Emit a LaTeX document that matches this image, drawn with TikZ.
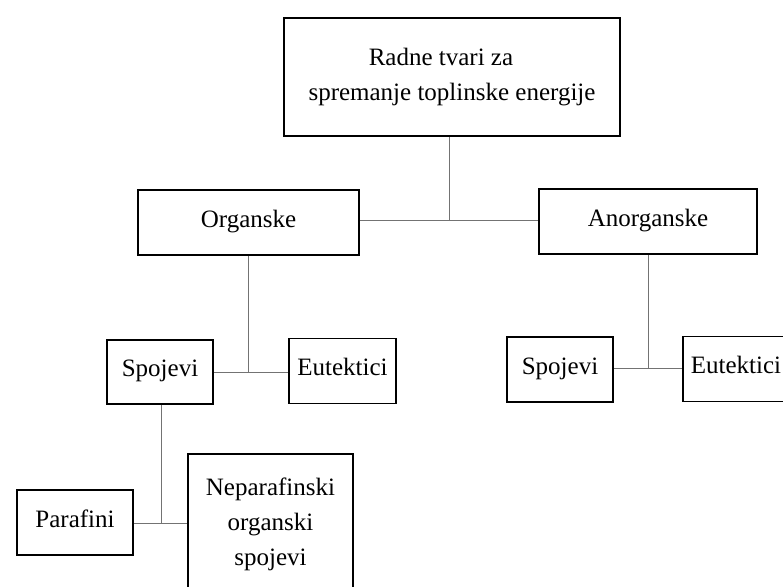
\documentclass[tikz,border=0pt]{standalone}
\usepackage{fontspec}
\setmainfont{Liberation Serif}
\begin{document}
\begin{tikzpicture}[x=1pt,y=-1pt,
  frame/.style={draw=black,line width=1.8pt,inner sep=0pt,
    font=\fontsize{25}{35}\selectfont},
  box/.style={frame,align=center},
  onebox/.style={frame,text height=17pt,text depth=8pt},
  link/.style={draw=black!55,line width=0.9pt}]
\useasboundingbox (0,0) rectangle (783,586);
\node[box,minimum width=336pt,minimum height=118pt] (top) at (452,77)
  {Radne tvari za\hspace*{22pt}\\spremanje toplinske energije};
\node[onebox,minimum width=221pt,minimum height=65pt] (org) at (248.5,222.5) {Organske};
\node[onebox,minimum width=218pt,minimum height=65pt] (anorg) at (648,221.5) {Anorganske};
\node[onebox,minimum width=106pt,minimum height=64pt] (spL) at (160,372) {Spojevi};
\node[onebox,minimum width=107pt,minimum height=65pt] (euL) at (342.5,371) {Eutektici};
\node[onebox,minimum width=106pt,minimum height=65pt] (spR) at (560,369.5) {Spojevi};
\node[onebox,minimum width=106pt,minimum height=65pt] (euR) at (736,369) {Eutektici};
\node[onebox,minimum width=116pt,minimum height=65pt] (par) at (75,522.5) {Parafini};
\node[box,minimum width=165pt,minimum height=140pt] (nep) at (270.5,524)
  {Neparafinski\\organski\\spojevi};
\coordinate (j1) at (449,220);
\coordinate (j2) at (248,372);
\coordinate (j3) at (648,368);
\coordinate (j4) at (161,523);
\draw[link] (top.south -| j1) -- (j1);
\draw[link] (org.east |- j1) -- (anorg.west |- j1);
\draw[link] (org.south -| j2) -- (j2);
\draw[link] (spL.east |- j2) -- (euL.west |- j2);
\draw[link] (anorg.south -| j3) -- (j3);
\draw[link] (spR.east |- j3) -- (euR.west |- j3);
\draw[link] (spL.south -| j4) -- (j4);
\draw[link] (par.east |- j4) -- (nep.west |- j4);
\end{tikzpicture}
\end{document}
